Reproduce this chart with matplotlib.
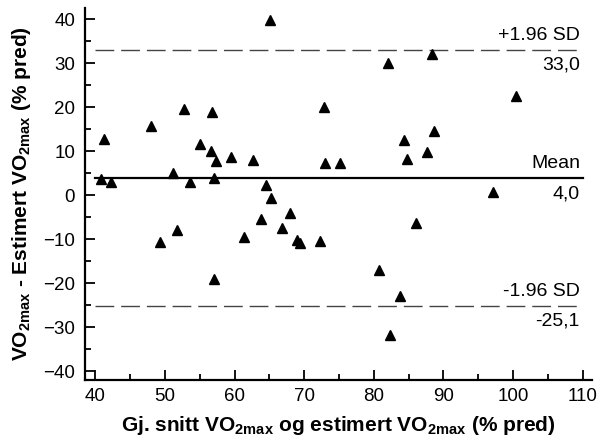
import numpy as np
import matplotlib.pyplot as plt
from matplotlib.ticker import MultipleLocator

# Data
snitt = [65.1, 52.8, 56.7, 72.8, 41.2, 48.0, 55.0, 56.6, 57.4, 59.5,
         62.7, 73.0, 75.1, 51.2, 40.8, 42.3, 53.6, 57.0, 64.5, 65.2,
         49.3, 51.7, 57.1, 61.3, 63.8, 67.9, 66.8, 69.0, 69.4, 72.3,
         82.1, 88.4, 100.4, 84.3, 88.7, 84.8, 87.6, 97.1,
         86.1, 80.7, 83.7, 82.3]
differanse = [39.8, 19.5, 18.9, 20.1, 12.7, 15.7, 11.6, 10.1, 7.8, 8.7,
              8.0, 7.3, 7.2, 5.1, 3.6, 3.0, 3.0, 3.8, 2.3, -0.7,
              -10.6, -8.0, -19.1, -9.5, -5.5, -4.0, -7.4, -10.1, -10.8, -10.5,
              29.9, 32.0, 22.5, 12.5, 14.5, 8.2, 9.8, 0.6,
              -6.4, -17.0, -22.9, -31.8]
mean_diff = 4.0
ovre = 33.0
nedre = -25.1

plt.rcParams['font.family'] = ['Liberation Sans', 'DejaVu Sans']
plt.rcParams['mathtext.fontset'] = 'custom'
plt.rcParams['mathtext.rm'] = 'Liberation Sans'
plt.rcParams['mathtext.bf'] = 'Liberation Sans:bold'

fig = plt.figure(figsize=(6.02, 4.45), dpi=100)
ax = fig.add_axes([0.141, 0.146, 0.842, 0.836])

# Linjer for gjennomsnitt og grenser
ax.plot([40, 110], [mean_diff, mean_diff], color='black', linewidth=1.6)
ax.plot([40, 110], [ovre, ovre], color='#444444', linewidth=1.0, dashes=(13.5, 5))
ax.plot([40, 110], [nedre, nedre], color='#444444', linewidth=1.0, dashes=(13.5, 5))

ax.plot(snitt, differanse, linestyle='none', marker='^', markersize=7.5,
        color='black', clip_on=False)

# Tekst ved linjene
fs = 14
tx = 109.6
ax.annotate('+1.96 SD', (tx, ovre), xytext=(0, 4), textcoords='offset points',
            ha='right', va='bottom', fontsize=fs)
ax.annotate(f'{ovre:.1f}'.replace('.', ','), (tx, ovre), xytext=(0, -5),
            textcoords='offset points', ha='right', va='top', fontsize=fs)
ax.annotate('Mean', (tx, mean_diff), xytext=(0, 4), textcoords='offset points',
            ha='right', va='bottom', fontsize=fs)
ax.annotate(f'{mean_diff:.1f}'.replace('.', ','), (tx, mean_diff), xytext=(0, -6),
            textcoords='offset points', ha='right', va='top', fontsize=fs)
ax.annotate('-1.96 SD', (tx, nedre), xytext=(0, 4), textcoords='offset points',
            ha='right', va='bottom', fontsize=fs)
ax.annotate(f'{nedre:.1f}'.replace('.', ','), (tx, nedre), xytext=(0, -5),
            textcoords='offset points', ha='right', va='top', fontsize=fs)

# Akser
ax.set_xlim(38.5, 111.3)
ax.set_ylim(-42, 42.5)
ax.xaxis.set_minor_locator(MultipleLocator(5))
ax.yaxis.set_minor_locator(MultipleLocator(5))
ax.set_xticks(np.arange(40, 111, 10))
ax.set_yticks(np.arange(-40, 41, 10))
ax.tick_params(which='both', direction='in', width=1.3, labelsize=13.5)
ax.tick_params(which='major', length=7)
ax.tick_params(which='minor', length=4.5)
ax.tick_params(axis='x', pad=6)
ax.tick_params(axis='y', pad=7)
for side in ['top', 'right']:
    ax.spines[side].set_visible(False)
for side in ['left', 'bottom']:
    ax.spines[side].set_linewidth(1.6)

ax.set_xlabel(r'Gj. snitt VO$_{\mathbf{2max}}$ og estimert VO$_{\mathbf{2max}}$ (% pred)',
              fontsize=15, fontweight='bold', labelpad=6)
ax.set_ylabel(r'VO$_{\mathbf{2max}}$ - Estimert VO$_{\mathbf{2max}}$ (% pred)',
              fontsize=15, fontweight='bold', labelpad=7)

fig.savefig('out.png', dpi=100)
